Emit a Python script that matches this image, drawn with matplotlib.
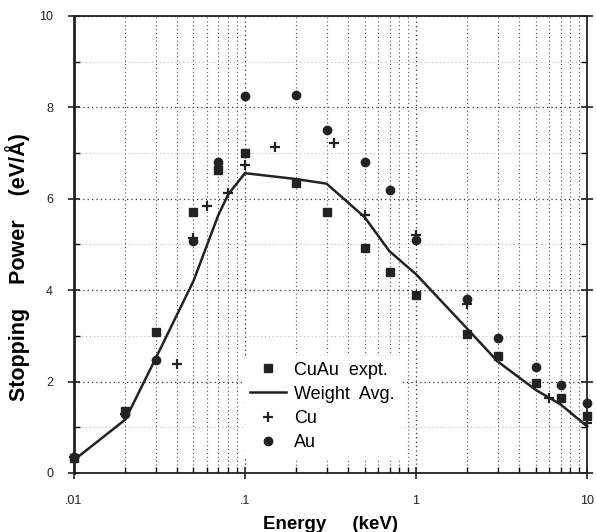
import matplotlib
matplotlib.use("Agg")
import matplotlib.pyplot as plt
from matplotlib.ticker import FixedLocator, NullFormatter, LogLocator

plt.rcParams['font.family'] = ['Liberation Sans', 'DejaVu Sans']

# CuAu experimental (squares)
cuau_x = [0.01, 0.02, 0.03, 0.05, 0.07, 0.1, 0.2, 0.3, 0.5, 0.7, 1, 2, 3, 5, 7, 10]
cuau_y = [0.33, 1.36, 3.09, 5.71, 6.62, 7.0, 6.35, 5.71, 4.92, 4.4, 3.9, 3.03, 2.56, 1.96, 1.63, 1.25]

# Weight average (line)
avg_x = [0.01, 0.02, 0.03, 0.05, 0.07, 0.08, 0.1, 0.2, 0.3, 0.5, 0.7, 1, 2, 3, 5, 7, 10]
avg_y = [0.28, 1.17, 2.5, 4.2, 5.65, 6.1, 6.56, 6.43, 6.33, 5.6, 4.85, 4.35, 3.15, 2.44, 1.82, 1.5, 1.02]

# Cu (plus)
cu_x = [0.01, 0.02, 0.04, 0.05, 0.06, 0.08, 0.1, 0.15, 0.33, 0.5, 1, 2, 6, 10]
cu_y = [0.35, 1.3, 2.38, 5.15, 5.84, 6.13, 6.73, 7.13, 7.22, 5.65, 5.2, 3.7, 1.65, 1.09]

# Au (circles)
au_x = [0.01, 0.02, 0.03, 0.05, 0.07, 0.1, 0.2, 0.3, 0.5, 0.7, 1, 2, 3, 5, 7, 10]
au_y = [0.35, 1.3, 2.47, 5.08, 6.8, 8.25, 8.27, 7.5, 6.8, 6.2, 5.1, 3.8, 2.95, 2.32, 1.93, 1.53]

x_ticks = [0.01, 0.1, 1, 10]
x_labels = ['.01', '.1', '1', '10']
y_ticks = [0, 2, 4, 6, 8, 10]

fig = plt.figure(figsize=(5.96, 5.32), dpi=100)
ax = fig.add_axes([0.124, 0.111, 0.861, 0.859])

ax.set_xscale('log')
ax.set_xlim(0.01, 10)
ax.set_ylim(0, 10)

ax.plot(avg_x, avg_y, color='#222222', lw=1.8, label='Weight  Avg.', zorder=3, clip_on=False)
ax.plot(cuau_x, cuau_y, 's', color='#222222', ms=6.3, label='CuAu  expt.', zorder=4,
        linestyle='none', clip_on=False)
ax.plot(cu_x, cu_y, '+', color='#222222', ms=6.5, mew=1.6, label='Cu', zorder=4,
        linestyle='none', clip_on=False)
ax.plot(au_x, au_y, 'o', color='#222222', ms=6.0, label='Au', zorder=4,
        linestyle='none', clip_on=False)

ax.set_xticks(x_ticks)
ax.set_xticklabels(x_labels)
ax.xaxis.set_minor_locator(LogLocator(base=10, subs=range(2, 10)))
ax.xaxis.set_minor_formatter(NullFormatter())
ax.set_yticks(y_ticks)
ax.yaxis.set_minor_locator(FixedLocator([1, 3, 5, 7, 9]))

ax.grid(True, which='major', axis='both', linestyle=(0, (1, 2.5)), color='#333333', lw=0.9)
ax.grid(True, which='minor', axis='x', linestyle=(0, (1, 2.5)), color='#555555', lw=0.8)
ax.grid(True, which='minor', axis='y', linestyle=(0, (1, 3)), color='#aaaaaa', lw=0.7)
ax.set_axisbelow(True)

ax.tick_params(which='major', direction='inout', length=8, width=1.2, labelsize=9, colors='#222222')
ax.tick_params(which='minor', direction='in', length=4, width=1.0)
ax.tick_params(axis='y', right=True, which='both')
ax.tick_params(axis='x', which='major', pad=12)
ax.tick_params(axis='y', which='major', pad=11)

for s in ax.spines.values():
    s.set_color('#222222')
    s.set_linewidth(1.3)
ax.spines['left'].set_linewidth(2)

ax.set_xlabel('Energy     (keV)', fontsize=13.5, fontweight='bold')
ax.xaxis.set_label_coords(0.5, -0.095)
ax.set_ylabel('Stopping    Power    (eV/Å)', fontsize=15.5, fontweight='bold')
ax.yaxis.set_label_coords(-0.086, 0.451)

h, l = ax.get_legend_handles_labels()
order = [1, 0, 2, 3]
leg = ax.legend([h[i] for i in order], [l[i] for i in order],
                loc='lower left', bbox_to_anchor=(0.315, 0.016), frameon=True,
                fontsize=13, handlelength=2.0, handletextpad=0.45, borderpad=0.3,
                labelspacing=0.4, fancybox=False)
leg.get_frame().set_edgecolor('white')
leg.get_frame().set_facecolor('white')
leg.get_frame().set_alpha(1)

fig.savefig('out.png', dpi=100)
